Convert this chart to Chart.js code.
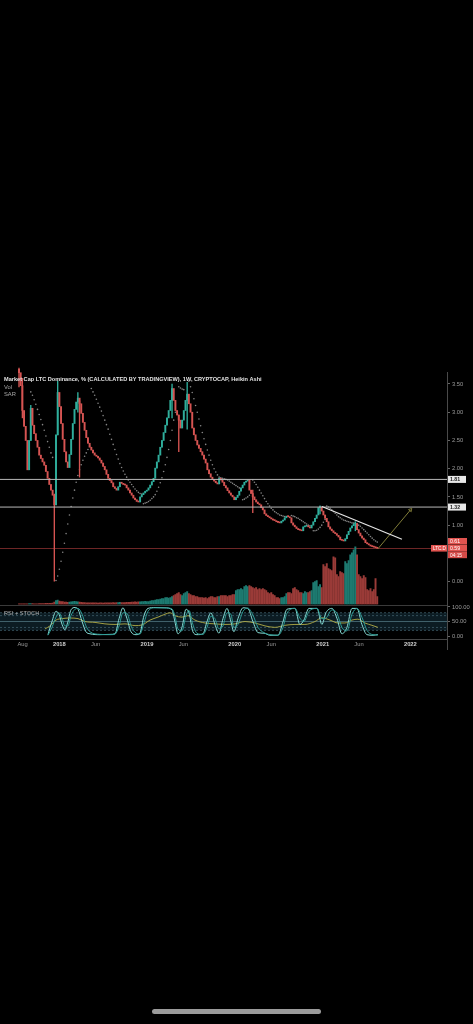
<!DOCTYPE html>
<html>
<head>
<meta charset="utf-8">
<script src="https://cdn.jsdelivr.net/npm/chart.js@4.4.1/dist/chart.umd.min.js"></script>
<style>
  html, body { margin: 0; padding: 0; background: #000; }
  body { width: 473px; height: 1024px; position: relative; overflow: hidden; }
  #main { position: absolute; left: 0; top: 367px; width: 473px; height: 243px; }
  #osc { position: absolute; left: 0; top: 600px; width: 473px; height: 50px; }
  #home { position: absolute; left: 152px; top: 1009px; width: 169px; height: 5px; border-radius: 3px; background: #9b9b9b; }
</style>
</head>
<body>
<div id="main"><canvas id="mainChart"></canvas></div>
<div id="osc"><canvas id="oscChart"></canvas></div>
<div id="home"></div>
<script>
var title = 'Market Cap LTC Dominance, % (CALCULATED BY TRADINGVIEW), 1W, CRYPTOCAP, Heikin Ashi';
var startDate = '2017-07-17';          // week 0 of the candles
var firstOpen = 3.76;

// weekly Heikin Ashi closes (%)
var closes = [
  3.70, 3.47, 3.03, 2.75, 2.50, 1.98, 2.50, 3.07, 2.77, 2.62,
  2.50, 2.38, 2.24, 2.18, 2.12, 2.06, 1.95, 1.83, 1.72, 1.62,
  1.53, 1.36, 2.60, 3.35, 3.10, 2.80, 2.52, 2.30, 2.12, 2.02,
  2.25, 2.52, 2.80, 3.05, 3.18, 3.25, 3.15, 2.98, 2.82, 2.68,
  2.55, 2.45, 2.38, 2.33, 2.28, 2.24, 2.22, 2.19, 2.15, 2.10,
  2.04, 1.98, 1.90, 1.83, 1.79, 1.75, 1.68, 1.65, 1.62, 1.68,
  1.76, 1.74, 1.72, 1.71, 1.66, 1.62, 1.57, 1.53, 1.48, 1.45,
  1.42, 1.41, 1.50, 1.54, 1.57, 1.60, 1.62, 1.66, 1.71, 1.77,
  1.83, 2.01, 2.12, 2.24, 2.38, 2.50, 2.64, 2.77, 2.90, 3.03,
  3.21, 3.42, 3.21, 3.03, 2.95, 2.86, 2.72, 2.86, 3.03, 3.21,
  3.32, 3.15, 3.00, 2.72, 2.60, 2.50, 2.42, 2.36, 2.30, 2.24,
  2.17, 2.10, 1.98, 1.91, 1.85, 1.81, 1.78, 1.75, 1.73, 1.83,
  1.80, 1.76, 1.70, 1.66, 1.61, 1.57, 1.53, 1.50, 1.45, 1.49,
  1.53, 1.60, 1.66, 1.71, 1.76, 1.78, 1.80, 1.62, 1.56, 1.50,
  1.45, 1.41, 1.38, 1.36, 1.31, 1.27, 1.20, 1.17, 1.15, 1.13,
  1.11, 1.09, 1.08, 1.06, 1.05, 1.04, 1.07, 1.09, 1.13, 1.16,
  1.15, 1.13, 1.04, 1.00, 0.97, 0.94, 0.92, 0.91, 0.90, 0.97,
  0.98, 0.99, 0.97, 0.95, 1.00, 1.06, 1.12, 1.18, 1.31, 1.32,
  1.25, 1.18, 1.12, 1.06, 0.97, 0.93, 0.90, 0.87, 0.85, 0.82,
  0.79, 0.74, 0.73, 0.72, 0.76, 0.83, 0.89, 0.95, 0.99, 1.02,
  1.03, 0.92, 0.86, 0.81, 0.77, 0.74, 0.69, 0.67, 0.65, 0.63,
  0.62, 0.61, 0.60, 0.59
];

// weekly volume (relative units)
var volumes = [
  0.6, 0.6, 0.7, 0.7, 0.8, 0.8, 0.9, 1.0, 0.9, 0.8,
  0.8, 0.8, 0.9, 0.9, 1.0, 1.0, 1.1, 1.2, 1.2, 1.3,
  1.5, 2.5, 4.0, 4.5, 3.5, 3.0, 3.0, 2.5, 2.5, 2.2,
  2.5, 2.8, 3.0, 3.2, 3.0, 2.6, 2.4, 2.2, 2.0, 2.0,
  1.8, 1.8, 1.7, 1.8, 1.6, 1.6, 1.7, 1.5, 1.6, 1.6,
  1.5, 1.6, 1.7, 1.8, 1.7, 1.8, 1.9, 1.8, 1.9, 2.0,
  2.2, 2.0, 1.9, 2.0, 2.1, 2.2, 2.3, 2.4, 2.5, 2.6,
  2.5, 2.7, 2.8, 3.0, 3.0, 3.2, 3.0, 3.0, 3.5, 4.0,
  4.0, 4.5, 5.0, 5.0, 5.5, 6.0, 6.0, 7.0, 7.0, 6.5,
  7, 8, 9, 10, 11, 12, 10, 9, 11, 12,
  13, 11, 10, 9, 9, 8, 8, 7, 7, 7,
  6.5, 7, 6, 7, 8, 8, 7, 7, 8, 8,
  9, 9, 9, 9, 8, 9, 9, 10, 10, 14,
  15, 15, 16, 15, 18, 19, 18, 19, 18, 17,
  16, 17, 15, 16, 15, 16, 15, 14, 12, 11,
  12, 10, 9, 7, 7, 6, 7, 7, 8, 11,
  12, 12, 11, 16, 17, 15, 14, 12, 12, 11,
  13, 12, 12, 13, 14, 22, 23, 24, 18, 20,
  17, 40, 38, 41, 36, 35, 34, 48, 47, 30,
  28, 33, 32, 31, 43, 41, 44, 50, 52, 55,
  58, 50, 30, 28, 26, 29, 27, 15, 14, 16,
  13, 15, 26, 8
];

// visible wicks
var wickWeek = [0, 2, 7, 21, 23, 35, 36, 91, 95, 100, 139, 179, 200];
var wickLow  = [3.45, 2.90, 2.50, 0.00, 2.60, 3.00, 1.85, 2.90, 2.30, 2.70, 1.22, 1.20, 0.90];
var wickHigh = [3.78, 3.60, 3.12, 1.55, 3.55, 3.35, 3.20, 3.50, 2.95, 3.53, 1.62, 1.34, 1.06];

// parabolic SAR runs: first week of each run and its dots
var sarStart = [7, 22, 43, 74, 95, 101, 133, 139, 162, 175, 183];
var sarVals = [
  [3.36, 3.30, 3.22, 3.14, 3.05, 2.96, 2.87, 2.78, 2.68, 2.58, 2.48, 2.38, 2.28, 2.20],
  [0.02, 0.10, 0.22, 0.36, 0.52, 0.68, 0.85, 1.02, 1.18, 1.33, 1.48, 1.62, 1.76, 1.88, 1.98, 2.07, 2.15, 2.22, 2.28, 2.34, 2.40],
  [3.42, 3.36, 3.30, 3.23, 3.16, 3.09, 3.02, 2.94, 2.86, 2.78, 2.70, 2.61, 2.52, 2.43, 2.34, 2.25, 2.17, 2.09, 2.02, 1.96, 1.90, 1.85, 1.80, 1.76, 1.72, 1.68, 1.64, 1.61, 1.58, 1.56, 1.55],
  [1.38, 1.39, 1.40, 1.42, 1.44, 1.47, 1.50, 1.54, 1.60, 1.67, 1.75, 1.84, 1.95, 2.07, 2.20, 2.34, 2.50, 2.68, 2.86, 3.00],
  [3.45, 3.43, 3.41, 3.40],
  [3.55, 3.45, 3.35, 3.24, 3.12, 3.00, 2.88, 2.76, 2.64, 2.53, 2.43, 2.33, 2.24, 2.15, 2.07, 2.00, 1.94, 1.89, 1.85, 1.84, 1.83, 1.82, 1.81, 1.80, 1.78, 1.76, 1.74, 1.72, 1.70, 1.68, 1.66],
  [1.45, 1.46, 1.48, 1.50, 1.53],
  [1.80, 1.76, 1.72, 1.67, 1.62, 1.57, 1.52, 1.47, 1.42, 1.38, 1.34, 1.30, 1.27, 1.24, 1.22, 1.20, 1.18, 1.17, 1.16, 1.15],
  [1.17, 1.16, 1.15, 1.13, 1.12, 1.10, 1.08, 1.06, 1.04, 1.02, 1.00, 0.99],
  [0.90, 0.90, 0.91, 0.93, 0.96, 1.00, 1.05, 1.10],
  [1.34, 1.32, 1.30, 1.27, 1.24, 1.21, 1.18, 1.15, 1.13, 1.11, 1.09, 1.08, 1.07, 1.06, 1.05, 1.04, 1.035, 1.03, 1.02, 1.00, 0.98, 0.95, 0.92, 0.89, 0.86, 0.83, 0.80, 0.77, 0.74, 0.72, 0.70]
];

// RSI + STOCH pane
var stochWeek = [17.2, 19.6, 22, 23.8, 25.6, 27.3, 29.1, 30.9, 33.3, 35.1,
  37.5, 39.8, 42.2, 48.2, 54.1, 57.1, 59.5, 61.8, 64.2, 66.6,
  69.6, 71.9, 74.3, 76.7, 80.9, 86.8, 91, 92.7, 94.5, 96.9,
  99.3, 101.1, 103.4, 105.8, 109.4, 111.8, 114.1, 116.5, 118.9, 121.3,
  123.7, 126, 127.8, 130.2, 133.2, 136.1, 139.1, 142.1, 145.7, 149.2,
  154, 157, 159.3, 164.1, 167, 169.4, 172.4, 177.2, 180.1, 182.5,
  186.1, 189.1, 192, 195, 198, 201, 203.9, 206.9, 210.5, 213.4];
var stochK = [5, 50, 85, 75, 40, 22, 50, 90, 98, 92,
  50, 15, 8, 5, 6, 8, 60, 97, 60, 15,
  5, 10, 70, 95, 98, 97, 90, 50, 8, 30,
  92, 80, 15, 5, 8, 50, 80, 40, 10, 60,
  95, 50, 15, 60, 97, 95, 50, 12, 10, 3,
  3, 50, 92, 95, 40, 55, 95, 95, 40, 80,
  95, 60, 8, 30, 95, 95, 40, 5, 3, 5];
var stochD = [3, 30, 65, 80, 60, 35, 35, 70, 92, 95,
  75, 35, 15, 6, 5, 7, 35, 80, 78, 35,
  10, 7, 45, 85, 97, 97, 93, 70, 25, 18,
  70, 88, 40, 10, 6, 30, 68, 60, 25, 35,
  80, 75, 30, 40, 85, 96, 72, 30, 12, 5,
  3, 30, 78, 95, 62, 50, 85, 95, 60, 62,
  90, 78, 30, 18, 75, 95, 65, 20, 5, 4];
var rsiWeek = [15.5, 18.4, 22, 25.6, 30.3, 35.1, 39.2, 45.2, 51.1, 57.1,
  63, 69, 73.1, 77.9, 82.6, 86.8, 89.8, 92.7, 96.9, 100.5,
  104.6, 110.6, 116.5, 122.5, 128.4, 134.4, 140.3, 146.3, 152.2, 158.1,
  164.1, 170, 176, 180.1, 184.9, 189.7, 193.8, 198, 201.5, 205.7,
  209.9, 213.4];
var rsiVal = [25, 35, 55, 60, 62, 60, 50, 47, 42, 40,
  42, 36, 38, 55, 65, 75, 80, 70, 65, 70,
  55, 45, 42, 40, 42, 50, 45, 35, 30, 37,
  40, 40, 50, 63, 55, 45, 45, 55, 58, 45,
  37, 30];

// drawings
var levels = [1.81, 1.32];
var trendWeek = [180.1, 227.7];
var trendVal = [1.33, 0.75];
var projWeek = [213.4, 232.8];
var projVal = [0.58, 1.27];
var boxTexts = ['0.61', '0.59', '04:15'];

var priceTicks = [0, 1, 1.5, 2, 2.5, 3, 3.5];
var oscTicks = [0, 50, 100];
var tickLabels = ['Aug', '2018', 'Jun', '2019', 'Jun', '2020', 'Jun', '2021', 'Jun', '2022'];
var tickDates = ['2017-08-01', '2018-01-01', '2018-06-01', '2019-01-01', '2019-06-01',
                 '2020-01-01', '2020-06-01', '2021-01-01', '2021-06-01', '2022-01-01'];

var X_MIN = -11.3, X_MAX = 254.5;          // visible weeks
var UP = '#2fae9c', DOWN = '#d65452';
var UP_VOL = '#1d7a70', DOWN_VOL = '#9a3b38';
var FONT = '"Liberation Sans", Arial, sans-serif';

Chart.defaults.font.family = FONT;

function weekOf(d) {                       // date -> week index
  return (Date.parse(d) - Date.parse(startDate)) / 604800000;
}

var opens = [], candleCol = [], volCol = [];
for (var i = 0; i < closes.length; i++) {
  opens.push(i == 0 ? firstOpen : closes[i - 1]);
  var up = closes[i] >= opens[i];
  candleCol.push(up ? UP : DOWN);
  volCol.push(up ? UP_VOL : DOWN_VOL);
}

var sarPts = [];
for (var r = 0; r < sarStart.length; r++) {
  for (var k = 0; k < sarVals[r].length; k++) sarPts.push({x: sarStart[r] + k, y: sarVals[r][k]});
}

function pts(xs, ys) {
  return xs.map(function (x, j) { return {x: x, y: ys[j]}; });
}

function fixWidth(s) { s.width = 26; }

function box(ctx, x, yc, w, h, bg, fg, text, font) {
  ctx.fillStyle = bg;
  ctx.fillRect(x, yc - h / 2, w, h);
  ctx.fillStyle = fg;
  ctx.font = font;
  ctx.fillText(text, x + 2, yc + 0.3);
}

var mainDecor = {
  id: 'mainDecor',
  beforeDatasetsDraw: function (chart) {       // last price line
    var ctx = chart.ctx, a = chart.chartArea;
    var py = Math.round(chart.scales.y.getPixelForValue(closes[closes.length - 1])) + 0.5;
    ctx.save();
    ctx.strokeStyle = '#6e2626';
    ctx.lineWidth = 1;
    ctx.beginPath(); ctx.moveTo(a.left, py); ctx.lineTo(a.right, py); ctx.stroke();
    ctx.restore();
  },
  afterDraw: function (chart) {
    var ctx = chart.ctx, y = chart.scales.y;
    ctx.save();
    ctx.textBaseline = 'middle';
    ctx.fillStyle = '#e2e2e2';
    ctx.font = 'bold 5.6px ' + FONT;
    ctx.fillText(title, 4, 12, 258);
    ctx.fillStyle = '#a8a8a8';
    ctx.font = '5.8px ' + FONT;
    ctx.fillText('Vol', 4, 20);
    ctx.fillText('SAR', 4, 27);

    levels.forEach(function (v) {
      box(ctx, 448, y.getPixelForValue(v), 18, 7, '#e8e8e8', '#1a1a1a', v.toFixed(2), 'bold 5.2px ' + FONT);
    });

    var ly = y.getPixelForValue(closes[closes.length - 1]);
    box(ctx, 448, ly - 7, 19, 6.6, '#e0534f', '#fff', boxTexts[0], '5.2px ' + FONT);
    box(ctx, 448, ly, 19, 6.6, '#e0534f', '#fff', boxTexts[1], '5.2px ' + FONT);
    box(ctx, 448, ly + 6.6, 19, 6.6, '#d54b48', '#fff', boxTexts[2], '4.8px ' + FONT);
    box(ctx, 431, ly, 16, 6.6, '#e0534f', '#fff', 'LTC.D', '4.6px ' + FONT);
    ctx.restore();
  }
};

var oscDecor = {
  id: 'oscDecor',
  beforeDatasetsDraw: function (chart) {
    var ctx = chart.ctx, a = chart.chartArea, y = chart.scales.y;
    ctx.save();
    ctx.fillStyle = 'rgba(35, 80, 100, 0.35)';
    ctx.fillRect(a.left, y.getPixelForValue(80), a.width, y.getPixelForValue(20) - y.getPixelForValue(80));
    ctx.lineWidth = 0.8;
    ctx.strokeStyle = '#3f5c68';
    ctx.setLineDash([2, 2]);
    [80, 70, 30, 20].forEach(function (v) {
      var py = y.getPixelForValue(v);
      ctx.beginPath(); ctx.moveTo(a.left, py); ctx.lineTo(a.right, py); ctx.stroke();
    });
    ctx.setLineDash([]);
    ctx.strokeStyle = '#4f7580';
    var p50 = y.getPixelForValue(50);
    ctx.beginPath(); ctx.moveTo(a.left, p50); ctx.lineTo(a.right, p50); ctx.stroke();
    ctx.restore();
  },
  afterDraw: function (chart) {
    var ctx = chart.ctx, a = chart.chartArea;
    ctx.save();
    ctx.strokeStyle = '#3a3a3a';
    ctx.lineWidth = 1;
    ctx.beginPath(); ctx.moveTo(0, Math.round(a.top) + 0.5); ctx.lineTo(a.right, Math.round(a.top) + 0.5); ctx.stroke();
    ctx.strokeStyle = '#4a4a4a';
    ctx.beginPath(); ctx.moveTo(a.right + 0.5, a.bottom); ctx.lineTo(a.right + 0.5, chart.height); ctx.stroke();
    ctx.fillStyle = '#b0b0b0';
    ctx.textBaseline = 'middle';
    ctx.font = '5.6px ' + FONT;
    ctx.fillText('RSI + STOCH', 4, 13);
    ctx.restore();
  }
};

var mainData = [
  { type: 'line', data: sarPts, showLine: false, pointRadius: 0.8, pointBorderWidth: 0,
    pointBackgroundColor: '#858585', yAxisID: 'y', order: 6 },
  { type: 'bar', data: pts(closes.map(function (c, j) { return j; }), volumes), backgroundColor: volCol,
    barThickness: 1.3, grouped: false, yAxisID: 'yv', order: 5 },
  { type: 'bar', data: wickWeek.map(function (w, j) { return {x: w, y: [wickLow[j], wickHigh[j]]}; }),
    backgroundColor: wickWeek.map(function (w) { return candleCol[w]; }),
    barThickness: 0.7, grouped: false, yAxisID: 'y', order: 4, clip: 6 },
  { type: 'bar', data: closes.map(function (c, j) { return {x: j, y: [opens[j], c]}; }),
    backgroundColor: candleCol, barThickness: 1.3, minBarLength: 1, grouped: false,
    yAxisID: 'y', order: 3, clip: 6 },
  { type: 'line', data: pts(trendWeek, trendVal), borderColor: '#e6e6e6', borderWidth: 1.2,
    pointRadius: 0, yAxisID: 'y', order: 1 },
  { type: 'line', data: pts(projWeek, projVal), borderColor: '#8f8b3f', borderWidth: 0.9,
    pointRadius: [0, 2], pointStyle: 'triangle', pointRotation: 39, pointBorderColor: '#8f8b3f',
    pointBackgroundColor: 'rgba(0,0,0,0)', pointBorderWidth: 0.8, yAxisID: 'y', order: 1 }
];
levels.forEach(function (v) {
  mainData.push({ type: 'line', data: pts([X_MIN, X_MAX], [v, v]), borderColor: '#b8b8b8',
    borderWidth: 1, pointRadius: 0, yAxisID: 'y', order: 2 });
});

new Chart(document.getElementById('mainChart'), {
  type: 'bar',
  data: { datasets: mainData },
  options: {
    responsive: true, maintainAspectRatio: false, animation: false, events: [],
    layout: { padding: 0, autoPadding: false },
    plugins: { legend: { display: false }, tooltip: { enabled: false } },
    scales: {
      x: { type: 'linear', min: X_MIN, max: X_MAX, offset: false, display: false },
      y: { position: 'right', min: -0.406, max: 3.704, afterFit: fixWidth,
           afterBuildTicks: function (s) { s.ticks = priceTicks.map(function (v) { return {value: v}; }); },
           ticks: { color: '#9b9b9b', padding: 2, font: { size: 5.8 },
                    callback: function (v) { return Number(v).toFixed(2); } },
           grid: { drawOnChartArea: false, drawTicks: true, tickLength: 3, color: '#666' },
           border: { display: true, color: '#4a4a4a' } },
      yv: { position: 'left', display: false, min: 0, max: 233 }
    }
  },
  plugins: [mainDecor]
});

new Chart(document.getElementById('oscChart'), {
  type: 'line',
  data: { datasets: [
    { data: pts(stochWeek, stochD), borderColor: '#2c9a93', borderWidth: 1, pointRadius: 0, cubicInterpolationMode: 'monotone' },
    { data: pts(stochWeek, stochK), borderColor: '#86dcd5', borderWidth: 1, pointRadius: 0, cubicInterpolationMode: 'monotone' },
    { data: pts(rsiWeek, rsiVal), borderColor: '#b3ad45', borderWidth: 0.9, pointRadius: 0, cubicInterpolationMode: 'monotone' }
  ] },
  options: {
    responsive: true, maintainAspectRatio: false, animation: false, events: [],
    layout: { padding: 0, autoPadding: false },
    plugins: { legend: { display: false }, tooltip: { enabled: false } },
    scales: {
      x: { type: 'linear', min: X_MIN, max: X_MAX, offset: false,
           afterBuildTicks: function (s) { s.ticks = tickDates.map(function (d) { return {value: weekOf(d)}; }); },
           ticks: { autoSkip: false, maxRotation: 0, padding: 2,
                    color: function (c) { return /^\d/.test(tickLabels[c.index]) ? '#d0d0d0' : '#9a9a9a'; },
                    font: function (c) { return { size: 5.8, weight: /^\d/.test(tickLabels[c.index]) ? 'bold' : 'normal' }; },
                    callback: function (v, idx) { return tickLabels[idx]; } },
           grid: { display: false, drawTicks: false, tickLength: 0 },
           border: { display: true, color: '#444' } },
      y: { position: 'right', min: -10, max: 105, afterFit: fixWidth,
           afterBuildTicks: function (s) { s.ticks = oscTicks.map(function (v) { return {value: v}; }); },
           ticks: { color: '#9b9b9b', padding: 2, font: { size: 5.8 },
                    callback: function (v) { return Number(v).toFixed(2); } },
           grid: { drawOnChartArea: false, drawTicks: true, tickLength: 3, color: '#666' },
           border: { display: true, color: '#4a4a4a' } }
    }
  },
  plugins: [oscDecor]
});
</script>
</body>
</html>
